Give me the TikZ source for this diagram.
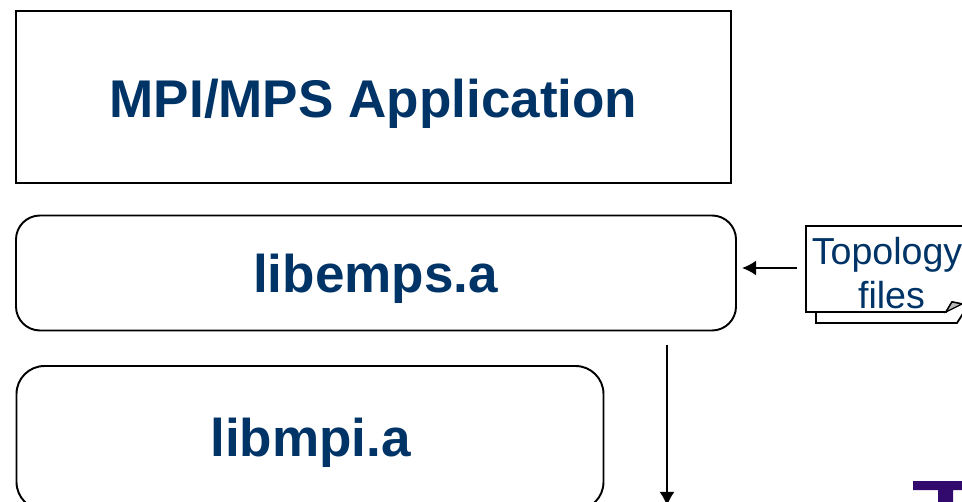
\documentclass[tikz,border=0pt]{standalone}
\usepackage{fontspec}
\setmainfont{Liberation Sans}
\usepackage{xcolor}
\usetikzlibrary{arrows.meta, positioning}
\definecolor{labelblue}{RGB}{0,51,102}
\definecolor{logopurple}{RGB}{50,10,110}
\tikzset{
    layerbox/.style={draw, line width=1.1pt, fill=white, inner sep=0pt},
    layertext/.style={text=labelblue, font=\fontsize{30.2}{36}\selectfont\bfseries},
    notetext/.style={text=labelblue, font=\fontsize{21.4}{25}\selectfont, align=center, inner sep=0pt},
    flowarrow/.style={-{Latex[length=8pt,width=8.5pt]}, line width=1.1pt}
}

\begin{document}
\begin{tikzpicture}[x=0.02cm, y=-0.02cm]
    \clip (0,0) rectangle (962,502);
    \useasboundingbox (0,0) rectangle (962,502);

    % Application layer
    \node[layerbox, minimum width=715*0.02cm, minimum height=172*0.02cm] (app) at (373.5,97) {};
    \node[layertext] (apptext) at (373.5,104) {MPI/MPS Application};

    % Libraries
    \node[layerbox, rounded corners=24*0.02cm, minimum width=720*0.02cm, minimum height=115*0.02cm] (emps) at (376,273) {};
    \node[layertext] (empstext) at (375.5,279) {libemps.a};
    \node[layerbox, rounded corners=28*0.02cm, minimum width=587*0.02cm, minimum height=144*0.02cm] (mpi) at (310,438) {};
    \node[layertext] (mpitext) at (310.5,443) {libmpi.a};

    % Topology sheets
    \draw[line width=1pt, fill=white] (816,300) -- (816,323) -- (957,323) -- (964,312) -- (964,300) -- cycle;
    \draw[line width=1pt, fill=white] (806,226) -- (970,226) -- (970,303) -- (962,304) -- (952,302) -- (946,312) -- (806,312) -- cycle;
    \draw[line width=.7pt, fill=gray!55] (946,312) -- (952,302) -- (962,304) -- cycle;
    \coordinate (topo) at (806,268);
    \node[notetext] (topotext) at (887,273) {Topology\\\hspace*{0.18cm}files};

    % Connectors
    \coordinate (bottom) at (667,506);
    \draw[flowarrow, shorten <=9*0.02cm, shorten >=5*0.02cm] (topo) -- (topo -| emps.east);
    \draw[flowarrow, shorten <=14*0.02cm] (emps.south -| bottom) -- (bottom);

    % Logo fragment
    \fill[logopurple] (913,481) -- (962,481) -- (962,490) -- (953,490) -- (953,502) -- (938,502) -- (938,490) -- (913,490) -- cycle;
\end{tikzpicture}
\end{document}
